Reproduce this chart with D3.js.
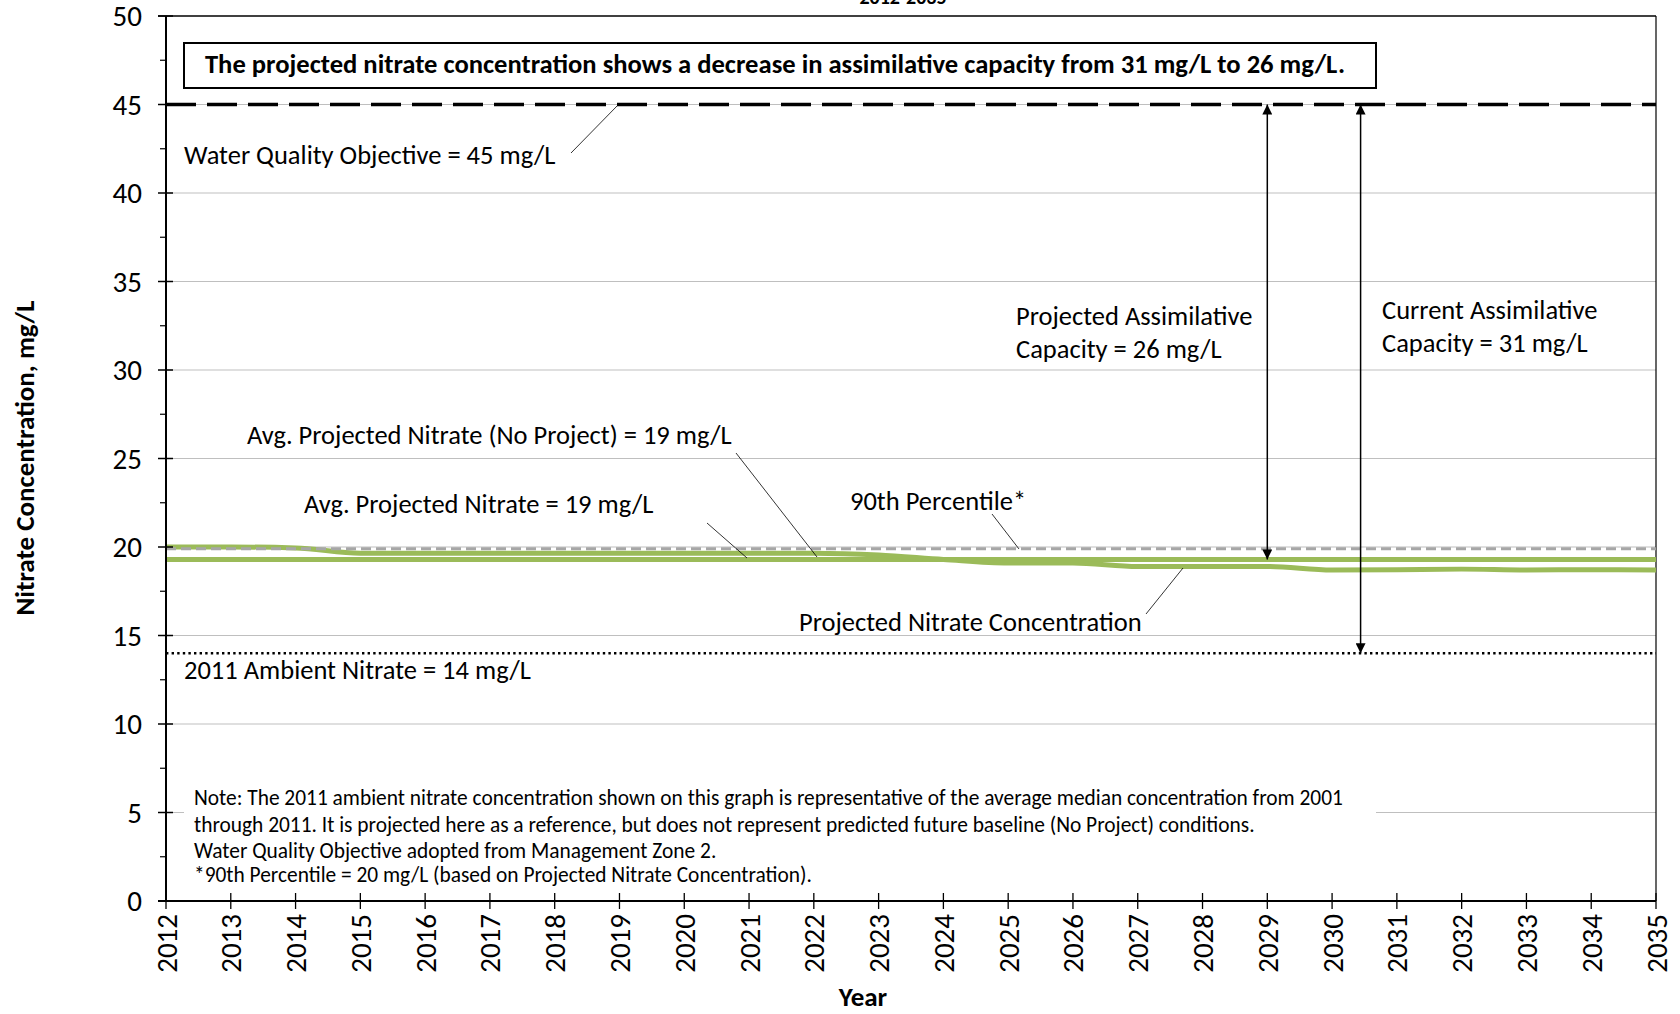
<!DOCTYPE html>
<html><head><meta charset="utf-8">
<script src="https://cdn.jsdelivr.net/npm/d3@7"></script>
<style>
html,body{margin:0;padding:0;background:#fff;}
svg{display:block;font-family:Carlito,Lato,"Open Sans",sans-serif;}
</style></head>
<body>
<svg id="chart" width="1680" height="1014"></svg>
<script>
// ---- data ----
const years = [2012,2013,2014,2015,2016,2017,2018,2019,2020,2021,2022,2023,2024,2025,2026,2027,2028,2029,2030,2031,2032,2033,2034,2035];
const projectedNitrate = [20.0,20.0,19.95,19.65,19.65,19.65,19.65,19.65,19.65,19.65,19.65,19.55,19.3,19.1,19.1,18.9,18.9,18.9,18.7,18.72,18.75,18.7,18.72,18.7];
const avgProjected = [19.3,19.3,19.3,19.3,19.3,19.3,19.3,19.3,19.3,19.3,19.3,19.3,19.3,19.3,19.3,19.3,19.3,19.3,19.3,19.3,19.3,19.3,19.3,19.3];
const avgNoProject = [19.3,19.3,19.3,19.3,19.3,19.3,19.3,19.3,19.3,19.3,19.3,19.3,19.3,19.3,19.3,19.3,19.3,19.3,19.3,19.3,19.3,19.3,19.3,19.3];
const percentile90 = 19.9;
const waterQualityObjective = 45;
const ambient2011 = 14;
const yTicks = [0,5,10,15,20,25,30,35,40,45,50];
const yMinorTicks = [2.5,7.5,12.5,17.5,22.5,27.5,32.5,37.5,42.5,47.5];
const projectedArrowYear = 2029, projectedArrowBottom = 19.3;
const currentArrowYear = 2030.44, currentArrowBottom = 14;

const titleText = "2012-2035";
const boxText = "The projected nitrate concentration shows a decrease in assimilative capacity from 31 mg/L to 26 mg/L.";
const noteLines = [
 "Note: The 2011 ambient nitrate concentration shown on this graph is representative of the average median concentration from 2001",
 "through 2011.  It is projected here as a reference, but does not represent predicted future baseline (No Project) conditions.",
 "Water Quality Objective adopted from Management Zone 2.",
 "*90th Percentile = 20 mg/L (based on Projected Nitrate Concentration)."
];

// ---- layout ----
const svg = d3.select("#chart");
const L = 166, R = 1656, T = 16, B = 901;
const x = d3.scaleLinear().domain([2012,2035]).range([L,R]);
const y = d3.scaleLinear().domain([0,50]).range([B,T]);
const green = "#9bbb59";

// title (cut off at top)
svg.append("text").attr("x",903).attr("y",4).attr("text-anchor","middle")
  .attr("font-weight","bold").attr("font-size",20).text(titleText);

// gridlines
svg.append("g").selectAll("line").data(yTicks.filter(d=>d>0&&d<50)).join("line")
  .attr("x1",L).attr("x2",R).attr("y1",d=>y(d)).attr("y2",d=>y(d))
  .attr("stroke","#bfbfbf").attr("stroke-width",1.2);

// plot border (top/right)
svg.append("line").attr("x1",L-8).attr("x2",R).attr("y1",T).attr("y2",T).attr("stroke","#000").attr("stroke-width",1.3);
svg.append("line").attr("x1",R).attr("x2",R).attr("y1",T).attr("y2",B).attr("stroke","#000").attr("stroke-width",1.2);

// note box (white background)
svg.append("rect").attr("x",184).attr("y",782).attr("width",1192).attr("height",112).attr("fill","#fff");
svg.append("g").selectAll("text").data(noteLines).join("text")
  .attr("x",194).attr("y",(d,i)=>[805,832,858,882][i]).attr("font-size",21.4).attr("fill","#000").text(d=>d);

// ambient dotted line
svg.append("line").attr("x1",L).attr("x2",R).attr("y1",y(ambient2011)).attr("y2",y(ambient2011))
  .attr("stroke","#000").attr("stroke-width",2.6).attr("stroke-dasharray","2.4,3.2");

// WQO dashed
svg.append("line").attr("x1",L).attr("x2",R).attr("y1",y(waterQualityObjective)).attr("y2",y(waterQualityObjective))
  .attr("stroke","#000").attr("stroke-width",3.5).attr("stroke-dasharray","30,11");

// green lines
const line = d3.line().x((d,i)=>x(years[i])).y(d=>y(d));
const smooth = d3.line().x((d,i)=>x(years[i])).y(d=>y(d)).curve(d3.curveMonotoneX);
svg.append("path").attr("d",line(avgNoProject)).attr("fill","none").attr("stroke",green).attr("stroke-width",5);
svg.append("path").attr("d",line(avgProjected)).attr("fill","none").attr("stroke",green).attr("stroke-width",5);
svg.append("path").attr("d",smooth(projectedNitrate)).attr("fill","none").attr("stroke",green).attr("stroke-width",5);

// 90th percentile dashed gray
svg.append("line").attr("x1",L).attr("x2",R).attr("y1",y(percentile90)).attr("y2",y(percentile90))
  .attr("stroke","#a6a6a6").attr("stroke-width",3).attr("stroke-dasharray","10,5");

// axes
const yAxis = svg.append("g");
yAxis.append("line").attr("x1",L).attr("x2",L).attr("y1",T).attr("y2",B).attr("stroke","#000").attr("stroke-width",2);
yAxis.selectAll(".maj").data(yTicks).join("line").attr("x1",L-8).attr("x2",L+7)
  .attr("y1",d=>y(d)).attr("y2",d=>y(d)).attr("stroke","#000").attr("stroke-width",1.5);
yAxis.selectAll(".min").data(yMinorTicks).join("line").attr("x1",L-6).attr("x2",L)
  .attr("y1",d=>y(d)).attr("y2",d=>y(d)).attr("stroke","#000").attr("stroke-width",1.2);
yAxis.selectAll("text").data(yTicks).join("text").attr("x",L-24).attr("y",d=>y(d)+10)
  .attr("text-anchor","end").attr("font-size",29).text(d=>d);

const xAxis = svg.append("g");
xAxis.append("line").attr("x1",L-8).attr("x2",R).attr("y1",B).attr("y2",B).attr("stroke","#000").attr("stroke-width",2.2);
xAxis.selectAll("line.t").data(years).join("line").attr("class","t").attr("x1",d=>x(d)).attr("x2",d=>x(d))
  .attr("y1",B-8).attr("y2",B+8).attr("stroke","#000").attr("stroke-width",1.3);
xAxis.selectAll("text").data(years).join("text")
  .attr("transform",d=>`translate(${x(d)+10.5},914) rotate(-90)`)
  .attr("text-anchor","end").attr("font-size",29).text(d=>d);

svg.append("text").attr("x",863).attr("y",1006).attr("text-anchor","middle").attr("font-weight","bold").attr("font-size",27).text("Year");
svg.append("text").attr("transform","translate(34,458) rotate(-90)").attr("text-anchor","middle")
  .attr("font-weight","bold").attr("font-size",27).text("Nitrate Concentration, mg/L");

// top statement box
svg.append("rect").attr("x",184).attr("y",43).attr("width",1192).attr("height",45)
  .attr("fill","#fff").attr("stroke","#000").attr("stroke-width",2);
svg.append("text").attr("x",775).attr("y",73).attr("text-anchor","middle").attr("font-weight","bold")
  .attr("font-size",26.6).text(boxText);

// arrows
const defs = svg.append("defs");
defs.append("marker").attr("id","ah").attr("viewBox","0 0 10 10").attr("refX",10).attr("refY",5)
  .attr("markerWidth",20).attr("markerHeight",10).attr("markerUnits","userSpaceOnUse").attr("orient","auto-start-reverse")
  .append("path").attr("d","M0,0 L10,5 L0,10 Z").attr("fill","#000");
function arrow(yr, top, bot){
  svg.append("line").attr("x1",x(yr)).attr("x2",x(yr)).attr("y1",y(top)).attr("y2",y(bot))
    .attr("stroke","#000").attr("stroke-width",1.5)
    .attr("marker-start","url(#ah)").attr("marker-end","url(#ah)");
}
arrow(projectedArrowYear, waterQualityObjective, projectedArrowBottom);
arrow(currentArrowYear, waterQualityObjective, currentArrowBottom);

// annotation labels
const labels = [
 {t:"Water Quality Objective = 45 mg/L", x:184, y:164},
 {t:"Avg. Projected Nitrate (No Project) = 19 mg/L", x:247, y:444},
 {t:"Avg. Projected Nitrate = 19 mg/L", x:304, y:513},
 {t:"90th Percentile*", x:850, y:510},
 {t:"Projected Nitrate Concentration", x:799, y:631},
 {t:"2011 Ambient Nitrate = 14 mg/L", x:184, y:679},
 {t:"Projected Assimilative", x:1016, y:325},
 {t:"Capacity = 26 mg/L", x:1016, y:358},
 {t:"Current Assimilative", x:1382, y:319},
 {t:"Capacity = 31 mg/L", x:1382, y:352}
];
svg.append("g").selectAll("text").data(labels).join("text").attr("x",d=>d.x).attr("y",d=>d.y)
  .attr("font-size",26.5).text(d=>d.t);

// leader lines
const leaders = [
 [571,153,618,105],[736,453,817,557],[707,523,747,558],[992,514,1019,549],[1146,614,1183,568]
];
svg.append("g").selectAll("line").data(leaders).join("line")
  .attr("x1",d=>d[0]).attr("y1",d=>d[1]).attr("x2",d=>d[2]).attr("y2",d=>d[3])
  .attr("stroke","#000").attr("stroke-width",0.8);
</script>
</body></html>
